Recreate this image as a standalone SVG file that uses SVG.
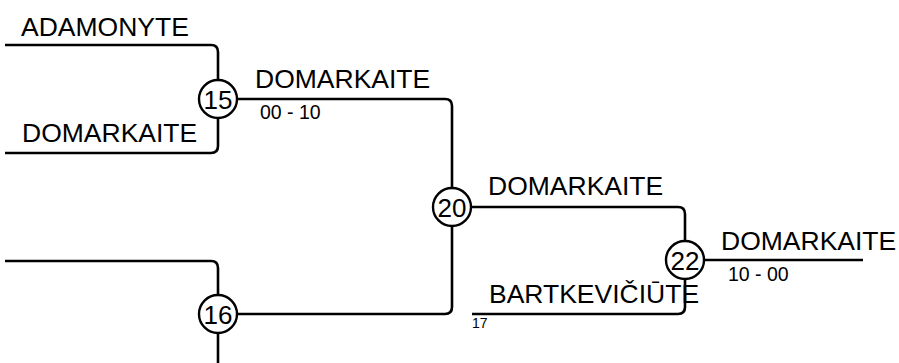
<svg xmlns="http://www.w3.org/2000/svg" width="899" height="363" viewBox="0 0 899 363">
<style>
.ln{fill:none;stroke:#000;stroke-width:2.6;stroke-linecap:butt}
.c{fill:#fff;stroke:#000;stroke-width:2.4}
.name{font-family:"Liberation Sans",Arial,sans-serif;font-size:26.5px;fill:#000}
.num{font-family:"Liberation Sans",Arial,sans-serif;font-size:26px;fill:#000;text-anchor:middle}
.score{font-family:"Liberation Sans",Arial,sans-serif;font-size:19.5px;fill:#000}
.seed{font-family:"Liberation Sans",Arial,sans-serif;font-size:14px;fill:#000}
</style>
<rect width="899" height="363" fill="#fff"/>
<g id="connectors">
<path class="ln" d="M5,45 H211 Q218,45 218,52 V146 Q218,153 211,153 H5"/>
<path class="ln" d="M218,99 H445 Q452,99 452,106 V307 Q452,314 445,314 H218"/>
<path class="ln" d="M5,261 H211 Q218,261 218,268 V363"/>
<path class="ln" d="M452,207 H678 Q685,207 685,214 V307 Q685,314 678,314 H472"/>
<path class="ln" d="M685,260 H863"/>
</g>
<g id="n15"><circle class="c" cx="218" cy="99" r="19"/><text class="num" x="218" y="108.5">15</text></g>
<g id="n16"><circle class="c" cx="218" cy="314" r="19"/><text class="num" x="218" y="323.5">16</text></g>
<g id="n20"><circle class="c" cx="452" cy="207" r="19"/><text class="num" x="452" y="216.5">20</text></g>
<g id="n22"><circle class="c" cx="685" cy="260" r="19"/><text class="num" x="685" y="269.5">22</text></g>
<g id="labels">
<text class="name" x="21" y="36">ADAMONYTE</text>
<text class="name" x="22" y="142">DOMARKAITE</text>
<text class="name" x="255" y="88">DOMARKAITE</text>
<text class="score" x="260" y="119">00 - 10</text>
<text class="name" x="488" y="195">DOMARKAITE</text>
<text class="name" x="721" y="250">DOMARKAITE</text>
<text class="score" x="728" y="281">10 - 00</text>
<text class="name" x="489" y="303">BARTKEVIČIŪTE</text>
<text class="seed" x="472" y="328">17</text>
</g>
</svg>
